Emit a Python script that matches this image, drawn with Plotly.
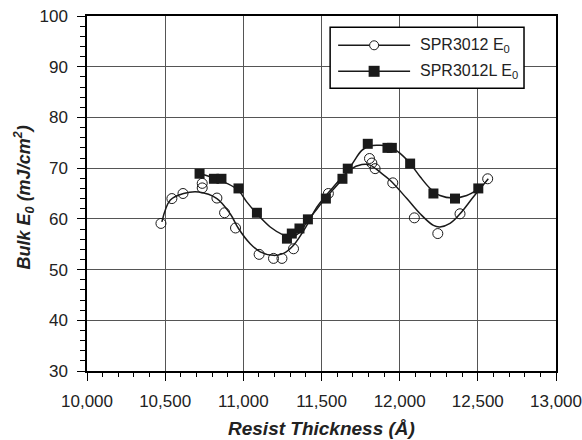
import plotly.graph_objects as go

# ---- data ----
spr_x = [10473, 10543, 10614, 10737, 10737, 10831, 10880, 10950, 11101, 11193, 11247,
         11321, 11544, 11807, 11822, 11843, 11956, 12094, 12244, 12386, 12563]
spr_y = [59.1, 64.0, 65.0, 67.0, 66.1, 64.1, 61.2, 58.2, 53.0, 52.2, 52.2,
         54.1, 65.0, 71.9, 71.0, 69.9, 67.1, 60.2, 57.1, 61.0, 67.9]

sprl_x = [10720, 10812, 10860, 10969, 11087, 11279, 11310, 11359, 11413, 11528,
          11634, 11668, 11796, 11922, 11950, 12067, 12216, 12354, 12503]
sprl_y = [68.9, 67.9, 67.9, 66.0, 61.2, 56.1, 57.1, 58.1, 59.9, 64.0,
          67.9, 69.9, 74.8, 74.0, 74.0, 70.9, 65.0, 64.0, 66.0]

# smooth fitted curves
spr_fit_x = [10479, 10533, 10618, 10715, 10831, 10916, 10969, 11044, 11108, 11193, 11257,
             11321, 11406, 11470, 11576, 11683, 11758, 11811, 11875, 11939, 12046, 12131,
             12216, 12258, 12322, 12386, 12471, 12567]
spr_fit_y = [59.4, 63.7, 65.0, 65.3, 64.0, 61.0, 58.1, 55.1, 53.5, 52.8, 53.2,
             54.8, 58.7, 62.3, 66.3, 69.7, 70.7, 70.6, 69.2, 67.6, 64.0, 61.0,
             58.7, 58.4, 59.1, 61.0, 64.3, 67.9]

sprl_fit_x = [10720, 10788, 10895, 10969, 11023, 11087, 11172, 11257, 11300, 11364, 11406,
              11470, 11523, 11634, 11704, 11758, 11811, 11875, 11939, 12003, 12067, 12131,
              12195, 12258, 12343, 12429, 12510]
sprl_fit_y = [68.9, 68.3, 67.0, 65.6, 63.3, 61.0, 58.4, 56.8, 56.4, 57.4, 59.4,
              61.9, 64.0, 67.9, 71.2, 73.5, 74.4, 74.5, 74.2, 72.9, 70.9, 68.3,
              66.0, 64.6, 64.1, 64.6, 66.0]

series_names = ["SPR3012 E<sub>0</sub>", "SPR3012L E<sub>0</sub>"]
x_title = "<b><i>Resist Thickness (Å)</i></b>"
y_title = "<b><i>Bulk E<sub>0</sub> (mJ/cm<sup>2</sup>)</i></b>"

FONT = "Liberation Sans, Arial, Helvetica, sans-serif"

fig = go.Figure()
fig.add_trace(go.Scatter(x=spr_fit_x, y=spr_fit_y, mode="lines", line=dict(color="#1a1a1a", width=1.5, shape="spline"),
                         showlegend=False, hoverinfo="skip"))
fig.add_trace(go.Scatter(x=sprl_fit_x, y=sprl_fit_y, mode="lines", line=dict(color="#1a1a1a", width=1.5, shape="spline"),
                         showlegend=False, hoverinfo="skip"))
fig.add_trace(go.Scatter(x=spr_x, y=spr_y, mode="markers", name=series_names[0],
                         marker=dict(symbol="circle-open", size=10, color="#1a1a1a", line=dict(width=1)),
                         showlegend=False))
fig.add_trace(go.Scatter(x=sprl_x, y=sprl_y, mode="markers", name=series_names[1],
                         marker=dict(symbol="square", size=10, color="#1a1a1a"),
                         showlegend=False))

axis_common = dict(
    showline=True, linecolor="black", linewidth=1.5, mirror=True,
    showgrid=True, gridcolor="#555555", gridwidth=1.2,
    ticks="outside", tickcolor="black", tickwidth=1.2, ticklen=8,
    tickfont=dict(family=FONT, size=17, color="#222222"),
    zeroline=False, automargin=False,
)

fig.update_xaxes(range=[10000, 13000], dtick=500, tick0=10000, tickformat=",d",
                 minor=dict(dtick=100, tick0=10000, ticks="outside", ticklen=4, tickcolor="black", tickwidth=1.2, showgrid=False),
                 ticklabelstandoff=6, **axis_common)
fig.update_yaxes(range=[30, 100], dtick=10, tick0=30,
                 minor=dict(dtick=2, tick0=30, ticks="outside", ticklen=5, tickcolor="black", tickwidth=1.2, showgrid=False),
                 ticklabelstandoff=6, **axis_common)

# legend (drawn manually to mimic the original box)
lx0, lx1, ly0, ly1 = 0.5184, 0.9318, 0.7963, 0.9682
rows = [0.9175, 0.8442]
line_x0, line_x1, mark_x, text_x = 0.5355, 0.6889, 0.6122, 0.7049
shapes = [dict(type="rect", xref="paper", yref="paper", x0=lx0, x1=lx1, y0=ly0, y1=ly1,
               line=dict(color="black", width=1.5), fillcolor="white", layer="above")]
for r in rows:
    shapes.append(dict(type="line", xref="paper", yref="paper", x0=line_x0, x1=line_x1, y0=r, y1=r,
                       line=dict(color="#1a1a1a", width=1.5), layer="above"))
shapes.append(dict(type="circle", xref="paper", yref="paper", xsizemode="pixel", ysizemode="pixel",
                   xanchor=mark_x, yanchor=rows[0], x0=-4.5, x1=4.5, y0=-4.5, y1=4.5,
                   line=dict(color="#1a1a1a", width=1), fillcolor="white", layer="above"))
shapes.append(dict(type="rect", xref="paper", yref="paper", xsizemode="pixel", ysizemode="pixel",
                   xanchor=mark_x, yanchor=rows[1], x0=-5.5, x1=5.5, y0=-5.5, y1=5.5,
                   line=dict(color="#1a1a1a", width=0), fillcolor="#1a1a1a", layer="above"))

annotations = []
for r, name in zip(rows, series_names):
    annotations.append(dict(xref="paper", yref="paper", x=text_x, y=r, text=name, showarrow=False,
                            xanchor="left", yanchor="middle", font=dict(family=FONT, size=16, color="#222222")))
annotations.append(dict(xref="paper", yref="paper", x=0.5, y=-0.1606, text=x_title, showarrow=False,
                        xanchor="center", yanchor="middle", font=dict(family=FONT, size=19, color="#222222")))
annotations.append(dict(xref="paper", yref="paper", x=-0.1357, y=0.49, text=y_title, showarrow=False,
                        textangle=-90, xanchor="center", yanchor="middle",
                        font=dict(family=FONT, size=18, color="#222222")))

fig.update_layout(
    width=582, height=440,
    margin=dict(l=87, r=26, t=16, b=69, autoexpand=False),
    paper_bgcolor="white", plot_bgcolor="white",
    shapes=shapes, annotations=annotations,
    showlegend=False,
)

# remove the default 8px page margin so the 582x440 figure fills the window exactly
fig.write_html("out.html", config={"displayModeBar": False},
               post_script="document.body.style.margin='0';document.body.style.overflow='hidden';")
